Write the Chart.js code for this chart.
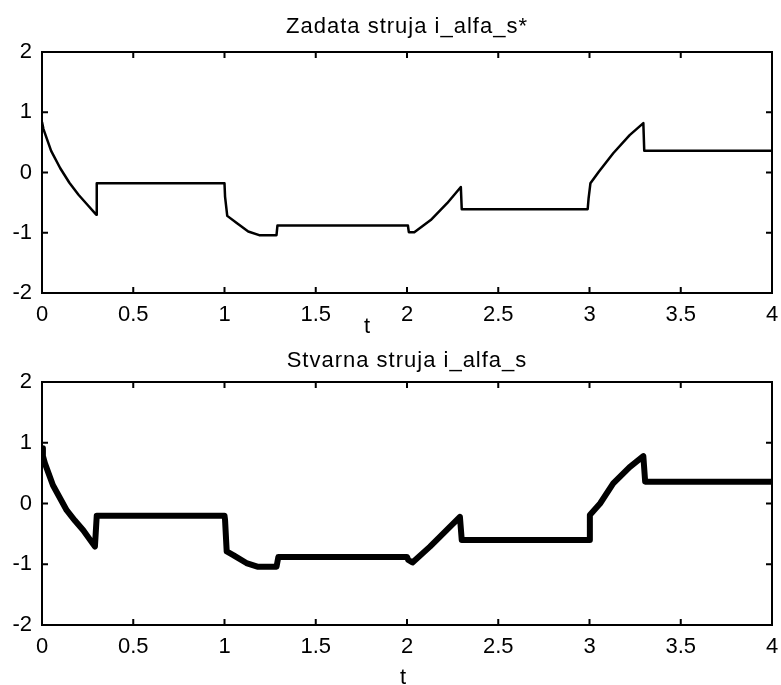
<!DOCTYPE html>
<html>
<head>
<meta charset="utf-8">
<script src="https://cdn.jsdelivr.net/npm/chart.js@4"></script>
<style>
  body { margin: 0; background: #fff; }
  #wrap { position: relative; width: 781px; height: 685px; }
  canvas { position: absolute; left: 0; }
</style>
</head>
<body>
<div id="wrap">
  <canvas id="top" width="781" height="342" style="top:0"></canvas>
  <canvas id="bottom" width="781" height="343" style="top:342px"></canvas>
</div>
<script>
// zadata struja (reference)
const tRef = [0, 0.008, 0.05, 0.1, 0.15, 0.2, 0.25, 0.297, 0.3, 1.0, 1.003, 1.015, 1.067, 1.13, 1.19, 1.285, 1.29,
  2.005, 2.01, 2.04, 2.13, 2.22, 2.295, 2.3, 2.99, 2.995, 3.005, 3.05, 3.13, 3.22, 3.295, 3.3, 4.0];
const iRef = [0.84, 0.72, 0.36, 0.07, -0.17, -0.37, -0.54, -0.70, -0.18, -0.18, -0.40, -0.72, -0.84, -0.98, -1.04, -1.04, -0.88,
  -0.88, -0.99, -0.99, -0.79, -0.51, -0.24, -0.61, -0.61, -0.43, -0.18, 0.01, 0.32, 0.62, 0.82, 0.36, 0.36];

// stvarna struja (actual)
const tAct = [0, 0.005, 0.016, 0.06, 0.135, 0.18, 0.226, 0.29, 0.3, 1.0, 1.003, 1.012, 1.048, 1.12, 1.18, 1.285, 1.295,
  2.0, 2.007, 2.03, 2.126, 2.217, 2.29, 2.3, 2.998, 3.002, 3.058, 3.13, 3.22, 3.295, 3.305, 4.0];
const iAct = [0.91, 0.78, 0.66, 0.3, -0.11, -0.28, -0.44, -0.71, -0.2, -0.2, -0.27, -0.79, -0.85, -0.98, -1.04, -1.04, -0.88,
  -0.88, -0.93, -0.97, -0.71, -0.44, -0.22, -0.6, -0.6, -0.19, 0.0, 0.33, 0.6, 0.78, 0.36, 0.36];

const xTickVals = [0, 0.5, 1, 1.5, 2, 2.5, 3, 3.5, 4];
const yTickVals = [-2, -1, 0, 1, 2];

const FONT = { family: '"Liberation Sans", Arial, sans-serif', size: 22 };

// frame, inward ticks on all four sides, title and the "t" label (matlab style)
const matlabAxes = {
  id: 'matlabAxes',
  afterDatasetsDraw(chart, args, opts) {
    const { ctx, chartArea: a, scales: { x, y } } = chart;
    ctx.save();
    ctx.strokeStyle = '#000';
    ctx.lineWidth = 2;
    ctx.strokeRect(a.left, a.top, a.right - a.left, a.bottom - a.top);
    ctx.beginPath();
    x.ticks.forEach(t => {
      const px = x.getPixelForValue(t.value);
      ctx.moveTo(px, a.bottom); ctx.lineTo(px, a.bottom - 6);
      ctx.moveTo(px, a.top); ctx.lineTo(px, a.top + 6);
    });
    y.ticks.forEach(t => {
      const py = y.getPixelForValue(t.value);
      ctx.moveTo(a.left, py); ctx.lineTo(a.left + 6, py);
      ctx.moveTo(a.right, py); ctx.lineTo(a.right - 6, py);
    });
    ctx.stroke();

    ctx.fillStyle = '#000';
    ctx.font = FONT.size + 'px ' + FONT.family;
    ctx.textAlign = 'center';
    ctx.textBaseline = 'alphabetic';
    ctx.letterSpacing = '1px';
    ctx.fillText(opts.title, (a.left + a.right) / 2, opts.titleY);
    ctx.letterSpacing = '0px';
    ctx.fillText('t', opts.labelX, opts.labelY);
    ctx.restore();
  }
};

function makeChart(id, xs, ys, width, padTop, xAxisH, opts) {
  return new Chart(document.getElementById(id), {
    type: 'line',
    data: {
      datasets: [{
        data: xs.map((t, i) => ({ x: t, y: ys[i] })),
        borderColor: '#000',
        borderWidth: width,
        pointRadius: 0,
        tension: 0,
        borderJoinStyle: 'round'
      }]
    },
    options: {
      responsive: false,
      animation: false,
      devicePixelRatio: 1,
      layout: { padding: { top: padTop, right: 9, bottom: 0, left: 0 } },
      plugins: { legend: { display: false }, tooltip: { enabled: false }, matlabAxes: opts },
      scales: {
        x: {
          type: 'linear', min: 0, max: 4,
          afterBuildTicks: s => { s.ticks = xTickVals.map(v => ({ value: v })); },
          afterFit: s => { s.height = xAxisH; s.paddingLeft = 0; s.paddingRight = 0; },
          grid: { display: false, drawTicks: false },
          border: { display: false },
          ticks: { color: '#000', font: FONT, padding: 9, maxRotation: 0, autoSkip: false,
                   callback: v => String(v) }
        },
        y: {
          min: -2, max: 2,
          afterBuildTicks: s => { s.ticks = yTickVals.map(v => ({ value: v })); },
          afterFit: s => { s.width = 42; s.paddingTop = 0; s.paddingBottom = 0; },
          grid: { display: false, drawTicks: false },
          border: { display: false },
          ticks: { color: '#000', font: FONT, padding: 10, callback: v => String(v) }
        }
      }
    },
    plugins: [matlabAxes]
  });
}

makeChart('top', tRef, iRef, 2.5, 52, 49,
  { title: 'Zadata struja i_alfa_s*', titleY: 33, labelX: 367, labelY: 333 });
makeChart('bottom', tAct, iAct, 6, 40, 60,
  { title: 'Stvarna struja i_alfa_s', titleY: 25, labelX: 403, labelY: 342 });
</script>
</body>
</html>
